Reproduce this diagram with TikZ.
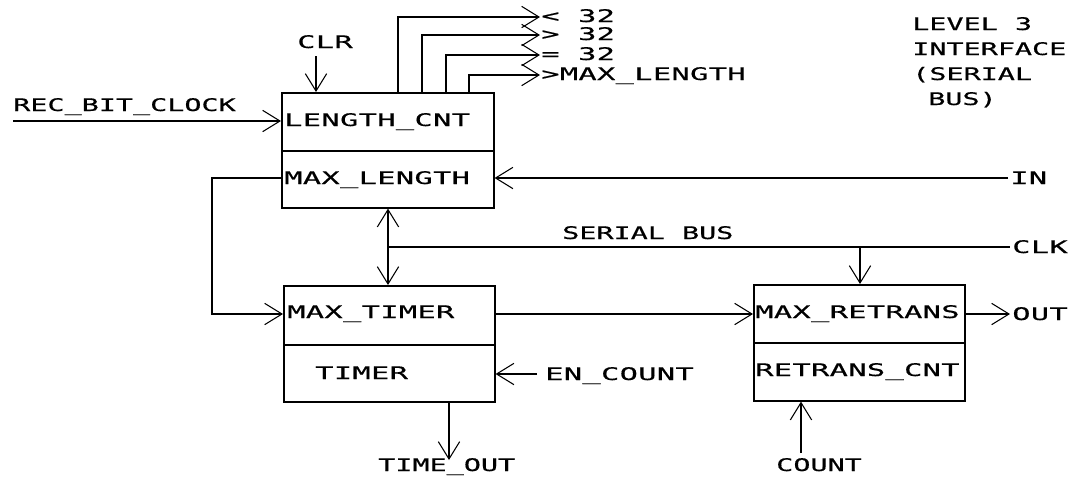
\documentclass[tikz,border=0pt]{standalone}
\usepackage{fontspec}
\usetikzlibrary{arrows.meta}
\newfontfamily\plotfont[FakeStretch=1.75,LetterSpace=2,FakeBold=0.6]{DejaVu Sans Mono}
\newfontfamily\plotfontn[FakeStretch=1.64,LetterSpace=0,FakeBold=0.6]{DejaVu Sans Mono}
\newcommand\us{\textunderscore}
\begin{document}
\begin{tikzpicture}[x=0.75pt,y=-0.75pt,
  wire/.style={line width=1.2pt},
  arr/.style={wire,-{Straight Barb[length=13pt,width=16pt,line width=0.8pt]}},
  darr/.style={wire,{Straight Barb[length=13pt,width=16pt,line width=0.8pt]}-{Straight Barb[length=13pt,width=16pt,line width=0.8pt]}},
  box/.style={draw,line width=1.2pt,rectangle,inner sep=0pt,anchor=north west},
  lbl/.style={inner sep=0pt,anchor=base west,font=\plotfont\fontsize{13}{15}\selectfont},
  lbln/.style={lbl,font=\plotfontn\fontsize{13}{15}\selectfont}]
\useasboundingbox (0,0) rectangle (1075,476);
% boxes
\node[box,minimum width={212*0.75pt},minimum height={58*0.75pt}] (b1t) at (281,92) {};
\node[box,minimum width={212*0.75pt},minimum height={57*0.75pt}] (b1b) at (281,150) {};
\node[box,minimum width={211*0.75pt},minimum height={59*0.75pt}] (b2t) at (283,285) {};
\node[box,minimum width={211*0.75pt},minimum height={57*0.75pt}] (b2b) at (283,344) {};
\node[box,minimum width={211*0.75pt},minimum height={58*0.75pt}] (b3t) at (753,284) {};
\node[box,minimum width={211*0.75pt},minimum height={58*0.75pt}] (b3b) at (753,342) {};
% box texts
\node[lbl] (tLC) at (284,126) {LENGTH\us CNT};
\node[lbl] (tML) at (284,184) {MAX\us LENGTH};
\node[lbl] (tMT) at (287,318) {MAX\us TIMER};
\node[lbl] (tTI) at (315,379) {TIMER};
\node[lbl] (tMR) at (755,318) {MAX\us RETRANS};
\node[lbl] (tRC) at (755,376) {RETRANS\us CNT};
% outside texts
\node[lbln] (tRBC) at (13,111) {REC\us BIT\us CLOCK};
\node[lbl] (tCLR) at (297,48) {CLR};
\node[lbl] (tO1) at (541,22) {< 32};
\node[lbl] (tO2) at (541,40) {> 32};
\node[lbl] (tO3) at (541,60) {= 32};
\node[lbl] (tO4) at (541,80) {>MAX\us LENGTH};
\node[lbln] (tL1) at (912,30) {LEVEL 3};
\node[lbln] (tL2) at (912,55) {INTERFACE};
\node[lbln] (tL3) at (912,80) {(SERIAL};
\node[lbln] (tL4) at (928,105) {BUS)};
\node[lbl] (tIN) at (1010,184) {IN};
\node[lbl] (tCLK) at (1012,253) {CLK};
\node[lbln] (tSB) at (562,239) {SERIAL BUS};
\node[lbl] (tEN) at (545,380) {EN\us COUNT};
\node[lbl] (tOUT) at (1012,320) {OUT};
\node[lbln] (tTO) at (378,471) {TIME\us OUT};
\node[lbln] (tCN) at (776,471) {COUNT};
% free ends and rows
\coordinate (rbc) at (13,121);
\coordinate (clr) at (316,56);
\coordinate (o1) at (540,17);
\coordinate (o2) at (540,35);
\coordinate (o3) at (540,55);
\coordinate (o4) at (540,75);
\coordinate (in) at (1008,178);
\coordinate (lp) at (212,178);
\coordinate (r1) at (0,314);
\coordinate (bus) at (388,247);
\coordinate (clk) at (1010,247);
\coordinate (cd) at (860,247);
\coordinate (out) at (1010,314);
\coordinate (en) at (537,374);
\coordinate (to) at (449,460);
\coordinate (cn) at (801,453);
% connectors
\draw[arr] (rbc) -- (rbc -| b1t.west);
\draw[arr] (clr) -- (clr |- b1t.north);
\draw[arr] ([xshift=117*0.75pt]b1t.north west) |- (o1);
\draw[arr] ([xshift=141*0.75pt]b1t.north west) |- (o2);
\draw[arr] ([xshift=165*0.75pt]b1t.north west) |- (o3);
\draw[arr] ([xshift=188*0.75pt]b1t.north west) |- (o4);
\draw[arr] (in) -- (in -| b1b.east);
\draw[arr] (lp -| b1b.west) -- (lp) |- (b2t.west |- r1);
\draw[darr] (bus |- b1b.south) -- (bus |- b2t.north);
\draw[wire] (bus) -- (clk);
\draw[arr] (cd) -- (cd |- b3t.north);
\draw[arr] (b2t.east |- r1) -- (b3t.west |- r1);
\draw[arr] (b3t.east |- out) -- (out);
\draw[arr] (en) -- (en -| b2b.east);
\draw[arr] (to |- b2b.south) -- (to);
\draw[arr] (cn) -- (cn |- b3b.south);
\end{tikzpicture}
\end{document}
